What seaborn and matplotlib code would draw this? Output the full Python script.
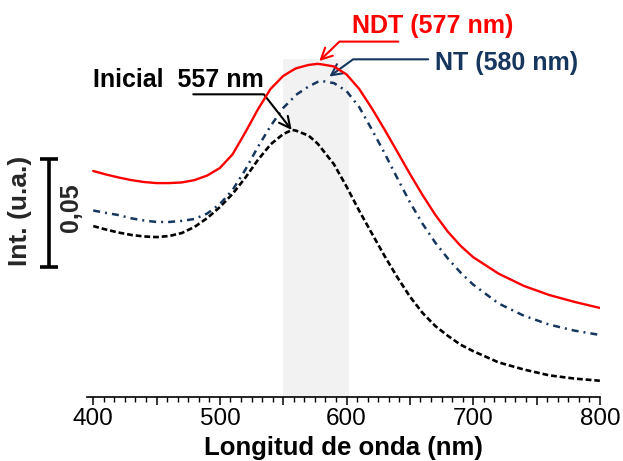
import matplotlib
matplotlib.use("Agg")
import matplotlib.pyplot as plt
import pandas as pd
import seaborn as sns
from matplotlib.ticker import MultipleLocator, FuncFormatter
from matplotlib.transforms import blended_transform_factory

# Absorbance spectra (arbitrary units) of the three samples
wavelength = [400, 410, 420, 430, 440, 450, 460, 470, 480, 490, 500, 510, 520,
              530, 540, 550, 557, 560, 570, 577, 580, 590, 600, 610, 620, 630,
              640, 650, 660, 670, 680, 690, 700, 720, 740, 760, 780, 800]

ndt = [0.1044, 0.1028, 0.1014, 0.1002, 0.0993, 0.0988, 0.0988, 0.0991, 0.1002,
       0.1023, 0.1058, 0.1121, 0.1222, 0.1329, 0.1424, 0.1484, 0.1509, 0.1519,
       0.1535, 0.1540, 0.1538, 0.1528, 0.1491, 0.1424, 0.1334, 0.1236, 0.1134,
       0.1031, 0.0933, 0.0842, 0.0763, 0.0698, 0.0645, 0.0569, 0.0512, 0.0470,
       0.0438, 0.0410]

nt = [0.0861, 0.0850, 0.0840, 0.0825, 0.0815, 0.0808, 0.0808, 0.0813, 0.0822,
      0.0847, 0.0891, 0.0956, 0.1049, 0.1155, 0.1252, 0.1336, 0.1377, 0.1396,
      0.1435, 0.1456, 0.1461, 0.1451, 0.1414, 0.1340, 0.1236, 0.1127, 0.1012,
      0.0900, 0.0800, 0.0713, 0.0639, 0.0574, 0.0518, 0.0431, 0.0374, 0.0333,
      0.0305, 0.0285]

inicial = [0.0789, 0.0773, 0.0759, 0.0748, 0.0741, 0.0738, 0.0743, 0.0757, 0.0785,
           0.0826, 0.0877, 0.0938, 0.1012, 0.1095, 0.1167, 0.1215, 0.1234, 0.1231,
           0.1208, 0.1172, 0.1150, 0.1076, 0.0972, 0.0860, 0.0755, 0.0651, 0.0553,
           0.0463, 0.0387, 0.0327, 0.0281, 0.0240, 0.0210, 0.0158, 0.0125, 0.0098,
           0.0083, 0.0073]

# Label texts for the three peaks
peak_labels = ["NDT (577 nm)", "NT (580 nm)", "Inicial  557 nm"]
band = (550, 602)
scale_bar = 0.05

df = pd.DataFrame({"wl": wavelength, "NDT": ndt, "NT": nt, "Inicial": inicial})

sns.set_theme(style="white")
plt.rcParams["font.family"] = ["Liberation Sans", "DejaVu Sans"]

RED = "#FF0000"
NAVY = "#17365D"
BLACK = "#000000"

fig = plt.figure(figsize=(6.23, 4.61), dpi=100)
ax = fig.add_axes([0.1401, 0.1399, 0.8227, 0.8167])

ax.axvspan(band[0], band[1], ymin=0, ymax=0.896, color="#F2F2F2", lw=0, zorder=0)

sns.lineplot(data=df, x="wl", y="Inicial", ax=ax, color=BLACK, lw=1.9,
             linestyle=(0, (2.2, 1.1)), zorder=3)
sns.lineplot(data=df, x="wl", y="NT", ax=ax, color=NAVY, lw=1.8,
             linestyle=(0, (2.8, 2.0, 0.8, 2.0)), zorder=3)
sns.lineplot(data=df, x="wl", y="NDT", ax=ax, color=RED, lw=1.7, zorder=4)

ax.set_xlim(395.3, 800)
ax.set_ylim(0, 0.1743)

for s in ("left", "top", "right"):
    ax.spines[s].set_visible(False)
ax.spines["bottom"].set_color("black")
ax.spines["bottom"].set_linewidth(1.2)

ax.xaxis.set_major_locator(MultipleLocator(50))
ax.xaxis.set_minor_locator(MultipleLocator(50 / 6))
ax.xaxis.set_major_formatter(FuncFormatter(lambda v, p: f"{v:.0f}" if round(v) % 100 == 0 else ""))
ax.tick_params(axis="x", which="major", direction="out", length=5.5, width=1.1,
               color="black", pad=3, labelsize=17.5, labelcolor="black", bottom=True)
ax.tick_params(axis="x", which="minor", direction="out", length=3.8, width=1.0,
               color="black", bottom=True)
ax.set_yticks([])
ax.set_ylabel("")
ax.set_xlabel("Longitud de onda (nm)", fontsize=18.5, fontweight="bold", color="black")
ax.xaxis.set_label_coords(0.5, -0.106)
ax.xaxis.label.set_va("top")

# Peak annotations with elbow arrows
arrow_kw = dict(arrowstyle="->", lw=1.5, shrinkA=0, shrinkB=0, mutation_scale=20)
ax.annotate("", xy=(578.5, 0.1553), xytext=(640.9, 0.1643),
            arrowprops=dict(color=RED, connectionstyle="angle,angleA=0,angleB=44,rad=0", **arrow_kw))
ax.annotate("", xy=(586.4, 0.1481), xytext=(664.5, 0.1561),
            arrowprops=dict(color=NAVY, connectionstyle="angle,angleA=0,angleB=36,rad=0", **arrow_kw))
ax.annotate("", xy=(556.7, 0.1234), xytext=(479.0, 0.1399),
            arrowprops=dict(color=BLACK, connectionstyle="angle,angleA=0,angleB=128,rad=0", **arrow_kw))

ax.text(604.0, 0.1682, peak_labels[0], color=RED, fontsize=18, fontweight="bold",
        ha="left", va="baseline")
ax.text(669.5, 0.1512, peak_labels[1], color=NAVY, fontsize=18, fontweight="bold",
        ha="left", va="baseline")
ax.text(399.5, 0.1434, peak_labels[2], color=BLACK, fontsize=18, fontweight="bold",
        ha="left", va="baseline")

# Intensity scale bar drawn left of the plot
tr = blended_transform_factory(fig.transFigure, ax.transData)
y0, y1 = 0.06, 0.06 + scale_bar
bx = 49.3 / 623
cap = 9 / 623
ax.plot([bx, bx], [y0, y1], color="black", lw=2.6, transform=tr, clip_on=False,
        solid_capstyle="butt")
for yy in (y0, y1):
    ax.plot([bx - cap, bx + cap], [yy, yy], color="black", lw=2.6, transform=tr,
            clip_on=False, solid_capstyle="butt")

fig.text(20 / 623, 1 - 211 / 461, "Int. (u.a.)", rotation=90, fontsize=19,
         fontweight="bold", ha="center", va="center")
fig.text(71 / 623, 1 - 208 / 461, "0,05", rotation=90, fontsize=18,
         fontweight="bold", ha="center", va="center")

fig.savefig("out.png", dpi=100, facecolor="white")
